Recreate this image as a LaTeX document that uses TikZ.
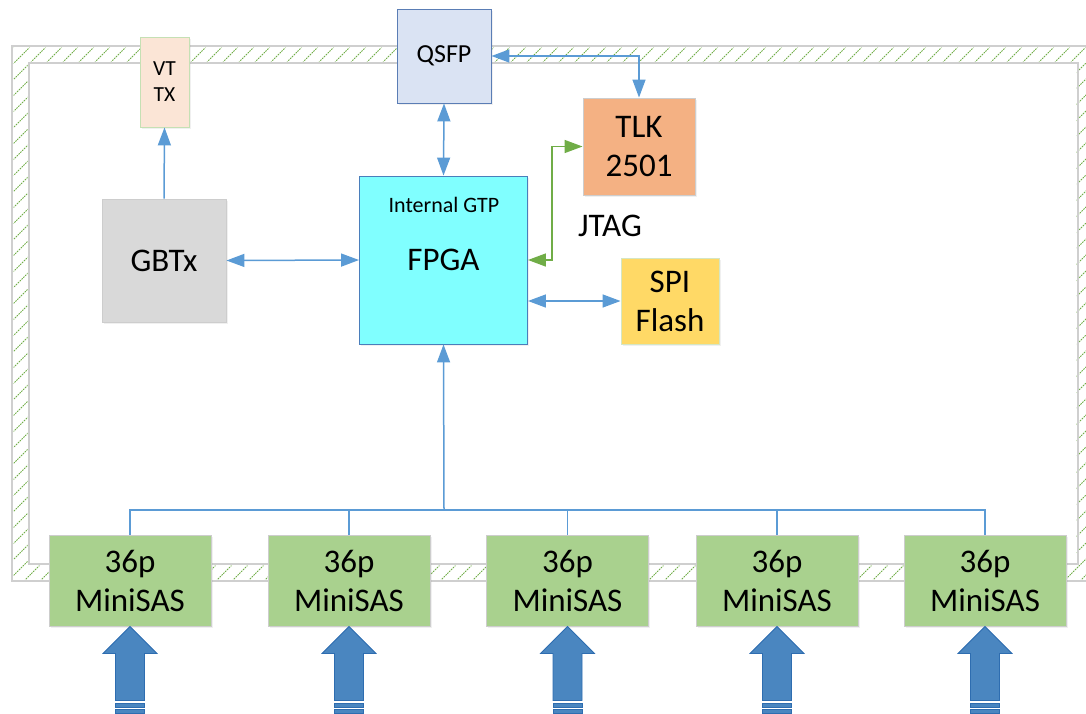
\documentclass[tikz,border=0pt]{standalone}
\usepackage{fontspec}
\setmainfont{Carlito}
\usetikzlibrary{arrows.meta, shadows}

\definecolor{linkblue}{HTML}{5B9BD5}
\definecolor{jtaggreen}{HTML}{70AD47}
\definecolor{framegrey}{HTML}{CFCFCF}
\definecolor{bigblue}{HTML}{4A86C0}
\definecolor{bigedge}{HTML}{2E6DB0}
\definecolor{vtfill}{HTML}{FBE5D6}
\definecolor{vtedge}{HTML}{C5E0B4}
\definecolor{qsfpfill}{HTML}{DAE3F3}
\definecolor{qsfpedge}{HTML}{5A7DB5}
\definecolor{tlkfill}{HTML}{F4B183}
\definecolor{greyedge}{HTML}{CDCDCD}
\definecolor{fpgafill}{HTML}{80FFFF}
\definecolor{fpgaedge}{HTML}{4A7EBB}
\definecolor{gbtxfill}{HTML}{D9D9D9}
\definecolor{spifill}{HTML}{FFD966}
\definecolor{spiedge}{HTML}{D5E6C3}
\definecolor{sasfill}{HTML}{A9D18E}

\begin{document}
\begin{tikzpicture}[x=1pt, y=-1pt, >={Triangle[length=18pt,width=13pt]},
  box/.style={draw, line width=0.9pt, inner sep=0pt, align=center,
    font=\fontsize{33}{39}\selectfont,
    drop shadow={opacity=0.12, shadow xshift=1.5pt, shadow yshift=-2pt}},
  link/.style={linkblue, line width=1.5pt},
  bus/.style={linkblue, line width=1.3pt},
  jtag/.style={jtaggreen, line width=1.5pt},
  hatch/.style={jtaggreen, line width=1pt, dash pattern=on 1.6pt off 1pt},
  bigarrow/.style={fill=bigblue, draw=bigedge, line width=0.8pt}];

\useasboundingbox (0,0) rectangle (1086,713);

% hatched frame
\begin{scope}[even odd rule]
\clip (13.5,47.5) rectangle (1100,579.5) (27.5,61.5) rectangle (1076.5,565.5);
\foreach \k in {-600,-584,...,1100}
  \draw[hatch] (\k,581) -- ++(535,-535);
\end{scope}
\draw[framegrey, line width=1.4pt] (12,46) rectangle (1100,581);
\draw[framegrey, line width=1.4pt] (29,63) rectangle (1078,564);

% blocks
\node[box, fill=vtfill, draw=vtedge, minimum width=49pt, minimum height=90pt,
  font=\fontsize{21.5}{26}\selectfont] (vttx) at (164.5,82) {VT\\TX};
\node[box, fill=qsfpfill, draw=qsfpedge, minimum width=94pt, minimum height=94pt,
  font=\fontsize{26}{30}\selectfont] (qsfp) at (444,56) {QSFP};
\node[box, fill=tlkfill, draw=greyedge, minimum width=112pt, minimum height=97pt]
  (tlk) at (639,146.5) {TLK\\2501};
\node[box, fill=fpgafill, draw=fpgaedge, minimum width=168pt, minimum height=168pt]
  (fpga) at (443.5,260) {FPGA};
\node[font=\fontsize{22}{26}\selectfont] (gtp) at (444,205) {Internal GTP};
\node[box, fill=gbtxfill, draw=greyedge, minimum width=124pt, minimum height=123pt]
  (gbtx) at (164,260.5) {GBTx};
\node[box, fill=spifill, draw=spiedge, minimum width=98pt, minimum height=86pt]
  (spi) at (670,301) {SPI\\Flash};
\node[font=\fontsize{33}{39}\selectfont] (jtaglabel) at (610,226) {JTAG};

\foreach \i/\x in {1/130, 2/349, 3/567.5, 4/777, 5/985}
  \node[box, fill=sasfill, draw=greyedge, minimum width=162pt, minimum height=91pt]
    (sas\i) at (\x,580.5) {36p\\MiniSAS};

% connections
\draw[link,->] (gbtx.north) -- (vttx.south);
\draw[link,<->] (gbtx.east) -- (fpga.west);
\draw[link,<->] (qsfp.south) -- (fpga.north);
\draw[link,<->] (qsfp.east) -| (tlk.north);
\draw[jtag,<->] (fpga.east) -- ++(24,0) |- (tlk.west);
\draw[link,<->] (fpga.east |- spi.west) -- (spi.west);

\coordinate (bus) at (444,510);
\draw[bus] (sas1.north) |- (sas5.north |- bus) -- (sas5.north);
\foreach \i in {2,3,4}
  \draw[bus] (sas\i.north) -- (sas\i.north |- bus);
\draw[link,->] (bus) -- (fpga.south);

% input arrows
\foreach \i in {1,...,5} {
  \draw[bigarrow] (sas\i.south) -- ++(27,27) -- ++(-12.5,0) -- ++(0,47) -- ++(-29,0)
    -- ++(0,-47) -- ++(-12.5,0) -- cycle;
  \draw[bigarrow] ([shift={(-14.5,76.5)}]sas\i.south) rectangle ++(29,4);
  \draw[bigarrow] ([shift={(-14.5,82.5)}]sas\i.south) rectangle ++(29,4);
}
\end{tikzpicture}
\end{document}
